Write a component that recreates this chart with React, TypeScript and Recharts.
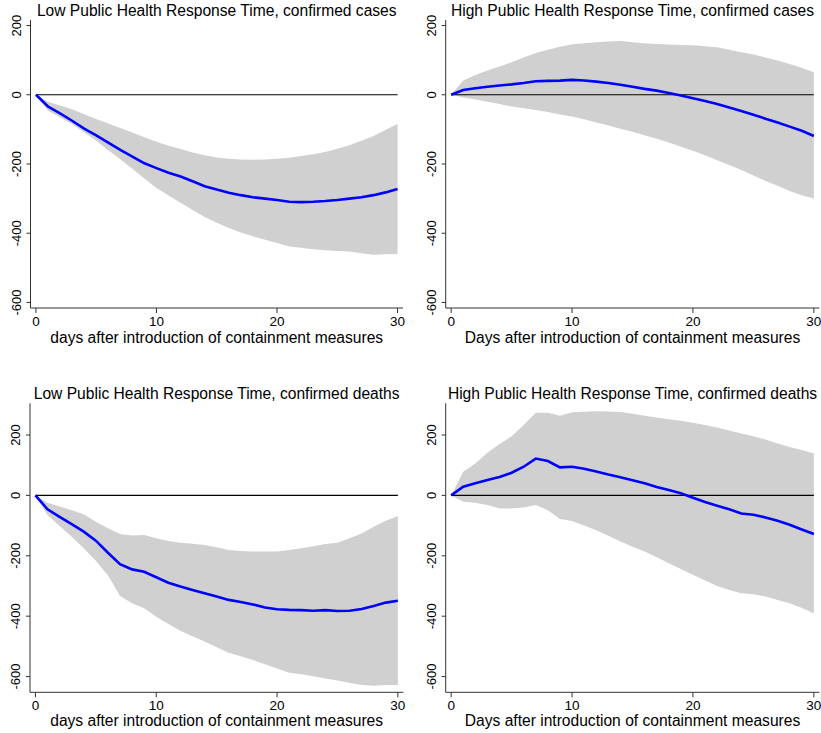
import React from 'react';
import { ComposedChart, Area, Line, XAxis, YAxis, ReferenceLine } from 'recharts';

const days = [0, 1, 2, 3, 4, 5, 6, 7, 8, 9, 10, 11, 12, 13, 14, 15, 16, 17, 18, 19, 20, 21, 22, 23, 24, 25, 26, 27, 28, 29, 30];
const xTicks = [0, 10, 20, 30];
const yTicks = [-600, -400, -200, 0, 200];

// Low response time, confirmed cases
const lowCasesMid = [0, -34, -54, -75, -98, -117, -138, -159, -179, -198, -212, -225, -236, -250, -264, -274, -283, -290, -296, -300, -304, -309, -310, -309, -307, -304, -300, -296, -290, -282, -272];
const lowCasesHi = [0, -20, -31, -42, -56, -70, -83, -96, -109, -123, -136, -147, -157, -167, -175, -181, -185, -187, -188, -187, -185, -182, -177, -172, -165, -156, -146, -133, -119, -102, -84];
const lowCasesLo = [0, -46, -65, -85, -108, -133, -160, -186, -214, -242, -269, -291, -312, -333, -353, -370, -385, -398, -409, -419, -428, -438, -442, -446, -449, -451, -453, -458, -462, -461, -460];

// High response time, confirmed cases
const highCasesMid = [0, 14, 19, 23, 27, 30, 34, 39, 40, 41, 43, 41, 38, 34, 29, 23, 17, 12, 5, -2, -10, -18, -27, -37, -47, -58, -69, -80, -92, -104, -119];
const highCasesHi = [0, 41, 57, 70, 82, 94, 108, 121, 130, 139, 146, 149, 152, 154, 155, 152, 149, 147, 145, 144, 143, 140, 137, 130, 123, 116, 108, 99, 89, 78, 65];
const highCasesLo = [0, -8, -14, -20, -27, -34, -39, -44, -50, -57, -63, -71, -80, -89, -98, -107, -117, -127, -138, -150, -162, -175, -189, -203, -217, -233, -249, -263, -278, -290, -300];

// Low response time, confirmed deaths
const lowDeathsMid = [0, -46, -71, -95, -120, -150, -190, -228, -245, -253, -271, -289, -302, -313, -324, -335, -346, -353, -361, -371, -377, -379, -380, -382, -380, -383, -382, -376, -366, -355, -349];
const lowDeathsHi = [0, -24, -37, -49, -62, -87, -109, -128, -133, -131, -142, -151, -157, -160, -164, -172, -181, -184, -186, -186, -186, -181, -175, -168, -161, -157, -142, -126, -104, -84, -68];
const lowDeathsLo = [0, -65, -101, -137, -175, -216, -264, -333, -357, -374, -402, -426, -448, -466, -484, -503, -521, -533, -545, -559, -573, -587, -592, -599, -606, -613, -620, -628, -630, -628, -628];

// High response time, confirmed deaths
const highDeathsMid = [0, 29, 40, 51, 61, 75, 95, 122, 114, 93, 95, 88, 79, 69, 60, 50, 40, 28, 18, 7, -8, -22, -34, -46, -60, -64, -73, -84, -97, -113, -128];
const highDeathsHi = [0, 78, 106, 141, 170, 196, 233, 274, 274, 264, 275, 277, 279, 278, 276, 270, 264, 258, 252, 247, 241, 233, 225, 215, 205, 196, 185, 172, 160, 150, 139];
const highDeathsLo = [0, -21, -24, -32, -43, -43, -40, -32, -49, -78, -85, -100, -115, -134, -153, -170, -186, -205, -225, -244, -263, -282, -300, -313, -324, -327, -335, -346, -357, -373, -390];

const FONT = '"Liberation Sans", Arial, sans-serif';

const build = (mid: number[], lo: number[], hi: number[]) =>
    days.map((d, i) => ({ day: d, mid: mid[i], band: [lo[i], hi[i]] }));

const YTick = (props: any) => {
    const { x, y, payload } = props;
    const cx = x - 10;
    return (
        <text
            x={cx}
            y={y}
            transform={`rotate(-90, ${cx}, ${y})`}
            textAnchor="middle"
            dominantBaseline="central"
            fontSize={13}
            fontFamily={FONT}
            fill="#000"
        >
            {payload.value}
        </text>
    );
};

interface PanelProps {
    left: number;
    top: number;
    width: number;
    height: number;
    plotLeft: number;
    plotRight: number;
    plotTop: number;
    plotBottom: number;
    yDomain: [number, number];
    title: string;
    xLabel: string;
    titleY: number;
    xLabelY: number;
    data: any[];
}

const textStyle = (cx: number, cy: number): React.CSSProperties => ({
    position: 'absolute', left: cx - 220, width: 440, top: cy - 9, height: 18, lineHeight: '18px',
    textAlign: 'center', fontSize: 15.6, fontFamily: FONT, color: '#000', whiteSpace: 'nowrap',
});

const Panel: React.FC<PanelProps> = (p) => {
    const cx = (p.plotLeft + p.plotRight) / 2;
    return (
        <div style={{ position: 'absolute', left: p.left, top: p.top, width: p.width, height: p.height }}>
            <ComposedChart
                width={p.width}
                height={p.height}
                data={p.data}
                margin={{ top: p.plotTop, right: p.width - p.plotRight, bottom: 0, left: 0 }}
            >
                <XAxis
                    dataKey="day"
                    type="number"
                    domain={[-0.45, 30.45]}
                    ticks={xTicks}
                    allowDataOverflow
                    height={p.height - p.plotBottom}
                    stroke="#333"
                    tickSize={5}
                    tickMargin={3}
                    tick={{ fill: '#000', fontSize: 13.5, fontFamily: FONT }}
                />
                <YAxis
                    type="number"
                    domain={p.yDomain}
                    ticks={yTicks}
                    allowDataOverflow
                    width={p.plotLeft}
                    stroke="#333"
                    tickSize={4}
                    tickMargin={0}
                    tick={<YTick />}
                />
                <Area
                    dataKey="band"
                    stroke="none"
                    fill="#d0d0d0"
                    fillOpacity={1}
                    isAnimationActive={false}
                />
                <ReferenceLine
                    segment={[{ x: 0, y: 0 }, { x: 30, y: 0 }]}
                    stroke="#000"
                    strokeWidth={1.2}
                />
                <Line
                    dataKey="mid"
                    stroke="#0000ff"
                    strokeWidth={2.6}
                    dot={false}
                    activeDot={false}
                    isAnimationActive={false}
                />
            </ComposedChart>
            <div style={textStyle(cx, p.titleY)}>{p.title}</div>
            <div style={textStyle(cx, p.xLabelY)}>{p.xLabel}</div>
        </div>
    );
};

export default function App() {
    return (
        <div style={{ position: 'absolute', left: 0, top: 0, width: 821, height: 733, background: '#fff', overflow: 'hidden' }}>
            <Panel
                left={0} top={0} width={410} height={363}
                plotLeft={30.5} plotRight={403} plotTop={20} plotBottom={308}
                yDomain={[-616, 216]}
                title="Low Public Health Response Time, confirmed cases"
                xLabel="days after introduction of containment measures"
                titleY={10.5} xLabelY={338}
                data={build(lowCasesMid, lowCasesLo, lowCasesHi)}
            />
            <Panel
                left={410} top={0} width={411} height={363}
                plotLeft={35.7} plotRight={409.3} plotTop={20} plotBottom={308}
                yDomain={[-616, 216]}
                title="High Public Health Response Time, confirmed cases"
                xLabel="Days after introduction of containment measures"
                titleY={10.5} xLabelY={338}
                data={build(highCasesMid, highCasesLo, highCasesHi)}
            />
            <Panel
                left={0} top={370} width={410} height={363}
                plotLeft={30} plotRight={403.3} plotTop={33.3} plotBottom={322.3}
                yDomain={[-652, 305]}
                title="Low Public Health Response Time, confirmed deaths"
                xLabel="days after introduction of containment measures"
                titleY={24} xLabelY={350.7}
                data={build(lowDeathsMid, lowDeathsLo, lowDeathsHi)}
            />
            <Panel
                left={410} top={370} width={411} height={363}
                plotLeft={35.7} plotRight={409.3} plotTop={33.3} plotBottom={322.3}
                yDomain={[-652, 305]}
                title="High Public Health Response Time, confirmed deaths"
                xLabel="Days after introduction of containment measures"
                titleY={24} xLabelY={350.7}
                data={build(highDeathsMid, highDeathsLo, highDeathsHi)}
            />
        </div>
    );
}
